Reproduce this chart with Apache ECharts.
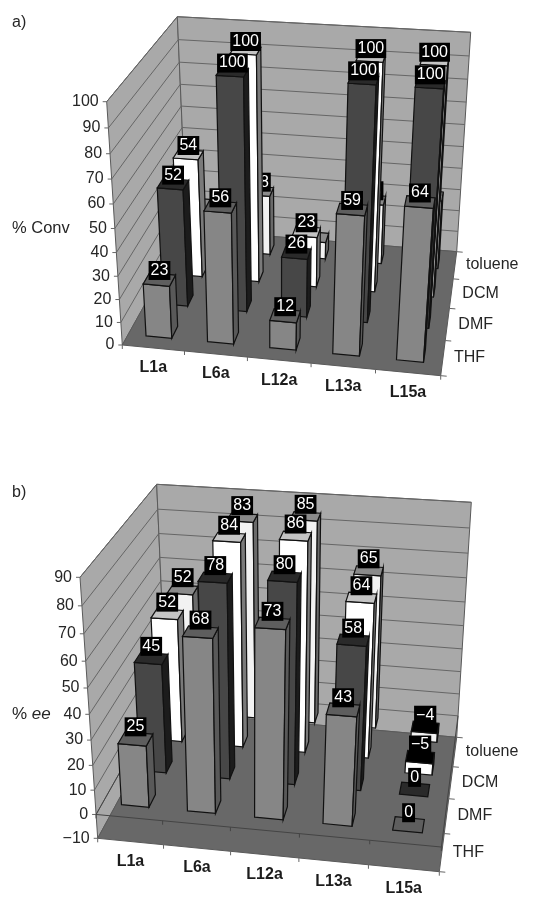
<!DOCTYPE html>
<html><head><meta charset="utf-8">
<style>html,body{margin:0;padding:0;background:#fff}#c{width:537px;height:897px}</style>
<script src="https://cdn.jsdelivr.net/npm/echarts@6/dist/echarts.min.js"></script>
</head><body><div id="c"></div>
<script>
// ---- data ----
const categories = ['L1a','L6a','L12a','L13a','L15a'];
const solvents = ['THF','DMF','DCM','toluene'];
const convTHF = [23,56,12,59,64];
const convDMF = [52,100,26,100,100];
const convDCM = [54,100,23,100,100];
const convToluene = [20,28,8,28,32];
const convUnlabelled = [[3,0],[3,2]]; // [solvent index, category index] drawn without a label
const convTicks = [0,10,20,30,40,50,60,70,80,90,100];
const eeTHF = [25,68,73,43,0];
const eeDMF = [45,78,80,58,0];
const eeDCM = [52,84,86,64,-5];
const eeToluene = [52,83,85,65,-4];
const eeTicks = [-10,0,10,20,30,40,50,60,70,80,90];

// ---- styling / camera ----
const SOLVENT_STYLE = [
  {front:'#868686', top:'#5e5e5e', side:'#595959'},
  {front:'#474747', top:'#2a2a2a', side:'#1c1c1c'},
  {front:'#ffffff', top:'#c4c4c4', side:'#7a7a7a'},
  {front:'#f2f2f2', top:'#8a8a8a', side:'#6a6a6a'}
];
const FONT = '"Liberation Sans", Arial, sans-serif';
const panels = [
  { tag:'a)', tagY:23, title:'% Conv', titleY:228, sets:[convTHF,convDMF,convDCM,convToluene], ticks:convTicks,
    unlabelled:convUnlabelled, labelUp:9, zeroLine:false,
    grid:{left:100,top:20,width:360,height:340},
    // corners [x,y]: d=depth (f front, b back), l/r, b/t
    c:{flb:[122.3,345],flt:[106.7,101.7],blt:[177.3,16.7],blb:[186.7,229.3],
       brt:[470.7,32.3],brb:[456.7,251.7],frb:[440.7,375.7],frt:[459,124]},
    rx:1.03, rv:1.088, rd:0.842 },
  { tag:'b)', tagY:493, title:'% ', titleEm:'ee', titleY:714, sets:[eeTHF,eeDMF,eeDCM,eeToluene], ticks:eeTicks,
    unlabelled:[], labelUp:12, zeroLine:true,
    grid:{left:80,top:490,width:380,height:370},
    c:{flb:[97.7,838.3],flt:[80,577.3],blt:[156.7,484.3],blb:[166.7,711.7],
       brt:[471.3,502.3],brb:[456.7,737.3],frb:[439.3,871.7],frt:[461.7,601.7]},
    rx:1.047, rv:1.105, rd:0.842 }
];
const warp = (t,r) => t/(t+(1-t)*r);
function lerp(a,b,t){return [a[0]+(b[0]-a[0])*t,a[1]+(b[1]-a[1])*t];}
// x,v,d are linear fractions (0..1) taken from the axis scales
function project(p,x,v,d){
  const X=warp(x,p.rx),V=warp(v,p.rv),D=warp(d,p.rd),c=p.c;
  const fb=lerp(c.flb,c.frb,X),ft=lerp(c.flt,c.frt,X),bb=lerp(c.blb,c.brb,X),bt=lerp(c.blt,c.brt,X);
  return lerp(lerp(fb,ft,V),lerp(bb,bt,V),D);
}
function axisFrac(api,cs,cat,val){
  const pt=api.coord([cat,val]);
  return {x:(pt[0]-cs.x)/cs.width, v:(cs.y+cs.height-pt[1])/cs.height};
}
const line=(a,b,col,w)=>({type:'line',shape:{x1:a[0],y1:a[1],x2:b[0],y2:b[1]},style:{stroke:col,lineWidth:w||1}});
const poly=(pts,fill,stroke,w)=>({type:'polygon',shape:{points:pts},style:{fill:fill,stroke:stroke||null,lineWidth:w||1}});
const txt=(x,y,t,font,align,col)=>({type:'text',style:{x:x,y:y,text:t,font:font,fill:col||'#262626',align:align||'left',verticalAlign:'middle'}});

function frameItem(p){
  return function(params,api){
    const cs=params.coordSys, g=[];
    const P=(x,val,d)=>project(p,x,axisFrac(api,cs,0,val).v,d);
    const lo=p.ticks[0], hi=p.ticks[p.ticks.length-1];
    g.push(poly([P(0,lo,0),P(0,hi,0),P(0,hi,1),P(0,lo,1)],'#a9a9a9','#5a5a5a'));
    g.push(poly([P(0,lo,1),P(0,hi,1),P(1,hi,1),P(1,lo,1)],'#a9a9a9','#5a5a5a'));
    g.push(poly([P(0,lo,0),P(1,lo,0),P(1,lo,1),P(0,lo,1)],'#686868','#5a5a5a'));
    p.ticks.forEach(t=>{
      const a=P(0,t,0),b=P(0,t,1),c=P(1,t,1);
      if(t!==lo){g.push(line(a,b,'#666'),line(b,c,'#666'));}
      g.push(line([a[0]-4,a[1]],a,'#666'));
      g.push(txt(a[0]-8,a[1],String(t).replace('-','\u2212'),'16px '+FONT,'right'));
    });
    if(p.zeroLine){
      const a=P(0,0,0),b=P(1,0,0);
      g.push(line(a,b,'#444'));
      g.push(line(P(1,0,0),P(1,0,1),'#444'),line(P(0,0,0),P(0,0,1),'#444'));
      for(let i=0;i<=categories.length;i++){const q=P(i/categories.length,0,0);g.push(line(q,[q[0],q[1]+4],'#444'));}
    }
    for(let i=0;i<=categories.length;i++){
      const q=P(i/categories.length,lo,0);
      g.push(line(q,[q[0],q[1]+4],'#666'));
    }
    categories.forEach((n,i)=>{
      const f=axisFrac(api,cs,i,lo), q=P(f.x,lo,0);
      g.push(txt(q[0],q[1]+20,n,'bold 16px '+FONT,'center','#1c1c1c'));
    });
    for(let j=0;j<=solvents.length;j++){
      const q=P(1,lo,j/solvents.length);
      g.push(line(q,[q[0]+6,q[1]+0.5],'#666'));
    }
    solvents.forEach((n,j)=>{
      const q=P(1,lo,(j+0.5)/solvents.length);
      g.push(txt(q[0]+11,q[1],n,'16px '+FONT,'left'));
    });
    g.push(txt(12,p.tagY,p.tag,'16px '+FONT,'left'));
    if(p.titleEm){
      g.push({type:'text',style:{x:12,y:p.titleY,text:'{a|'+p.title+'}{b|'+p.titleEm+'}',verticalAlign:'middle',
        rich:{a:{font:'17px '+FONT,fill:'#262626'},b:{font:'italic 17px '+FONT,fill:'#262626'}}}});
    } else g.push(txt(12,p.titleY,p.title,'16.5px '+FONT,'left'));
    return {type:'group',children:g};
  };
}
function barItem(p,sIdx){
  const st=SOLVENT_STYLE[sIdx], dHalf=0.18/solvents.length, dMid=(sIdx+0.5)/solvents.length;
  return function(params,api){
    const cs=params.coordSys, cat=api.value(0), val=api.value(1);
    const xc=axisFrac(api,cs,cat,0).x, xH=0.21*api.size([1,0])[0]/cs.width;
    const vTop=axisFrac(api,cs,cat,Math.max(0,val)).v, vBot=axisFrac(api,cs,cat,Math.min(0,val)).v;
    const x0=xc-xH,x1=xc+xH,d0=dMid-dHalf,d1=dMid+dHalf;
    const Q=(x,v,d)=>project(p,x,v,d), E='#111', g=[];
    const A=Q(x0,vBot,d0),B=Q(x1,vBot,d0),C=Q(x1,vTop,d0),D=Q(x0,vTop,d0);
    const F=Q(x1,vBot,d1),G=Q(x1,vTop,d1),H=Q(x0,vTop,d1);
    if(val!==0){
      g.push(poly([A,B,C,D],st.front,E,1.2));
      g.push(poly([B,F,G,C],st.side,E,1.2));
    }
    g.push(poly([D,C,G,H],val<0?'#000':st.top,E,1.2));
    const skip=p.unlabelled.some(u=>u[0]===sIdx&&u[1]===cat);
    if(!skip){
      const tc=Q(xc,vTop,dMid);
      g.push({type:'text',style:{x:tc[0],y:tc[1]-p.labelUp,text:String(val).replace('-','\u2212'),font:'16px '+FONT,
        fill:'#fff',backgroundColor:'#000',padding:[2,2,1,2],align:'center',verticalAlign:'middle'}});
    }
    return {type:'group',children:g};
  };
}
const grids=[],xAxes=[],yAxes=[],series=[];
panels.forEach((p,pi)=>{
  grids.push(Object.assign({},p.grid));
  xAxes.push({type:'category',gridIndex:pi,show:false,data:categories});
  yAxes.push({type:'value',gridIndex:pi,show:false,min:p.ticks[0],max:p.ticks[p.ticks.length-1],interval:10});
  series.push({type:'custom',name:'frame '+p.tag,xAxisIndex:pi,yAxisIndex:pi,clip:false,silent:true,z:1,
    renderItem:frameItem(p),data:[[0,0]],encode:{x:0,y:1}});
  for(let s=solvents.length-1;s>=0;s--){
    series.push({type:'custom',name:solvents[s],xAxisIndex:pi,yAxisIndex:pi,clip:false,silent:true,z:10+(solvents.length-s),
      renderItem:barItem(p,s),data:p.sets[s].map((v,i)=>[i,v]),encode:{x:0,y:1}});
  }
});
const chart=echarts.init(document.getElementById('c'),null,{renderer:'canvas'});
chart.setOption({animation:false,backgroundColor:'#fff',grid:grids,xAxis:xAxes,yAxis:yAxes,series:series});
</script></body></html>
